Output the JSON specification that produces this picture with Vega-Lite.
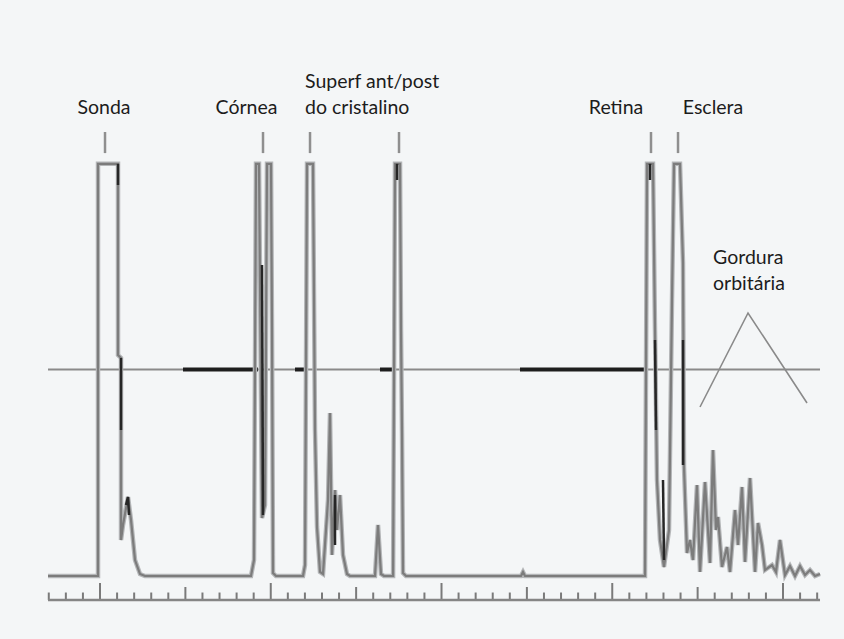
{
  "$schema": "https://vega.github.io/schema/vega-lite/v6.json",
  "width": 844,
  "height": 639,
  "autosize": "none",
  "padding": 0,
  "background": "#f4f6f7",
  "config": {"view": {"stroke": null}},
  "datasets": {
    "trace": [
      {"i": 1, "u": -3.045, "a": 0}, {"i": 2, "u": -0.117, "a": 0}, {"i": 3, "u": -0.117, "a": 99.8},
      {"i": 4, "u": 1.054, "a": 99.8}, {"i": 5, "u": 1.054, "a": 53.51}, {"i": 6, "u": 1.23, "a": 52.78},
      {"i": 7, "u": 1.23, "a": 8.72}, {"i": 8, "u": 1.347, "a": 12.35}, {"i": 9, "u": 1.64, "a": 19.13},
      {"i": 10, "u": 1.815, "a": 13.56}, {"i": 11, "u": 2.05, "a": 3.87}, {"i": 12, "u": 2.343, "a": 0.48},
      {"i": 13, "u": 2.635, "a": 0}, {"i": 14, "u": 8.843, "a": 0}, {"i": 15, "u": 9.019, "a": 3.87},
      {"i": 16, "u": 9.136, "a": 99.8}, {"i": 17, "u": 9.312, "a": 99.8}, {"i": 18, "u": 9.488, "a": 14.04},
      {"i": 19, "u": 9.663, "a": 17.19}, {"i": 20, "u": 9.78, "a": 99.8}, {"i": 21, "u": 10.015, "a": 99.8},
      {"i": 22, "u": 10.073, "a": 59.56}, {"i": 23, "u": 10.132, "a": 0.73}, {"i": 24, "u": 10.307, "a": 0},
      {"i": 25, "u": 11.889, "a": 0}, {"i": 26, "u": 12.006, "a": 2.66}, {"i": 27, "u": 12.123, "a": 99.8},
      {"i": 28, "u": 12.474, "a": 99.8}, {"i": 29, "u": 12.591, "a": 35.35}, {"i": 30, "u": 12.709, "a": 11.86},
      {"i": 31, "u": 12.884, "a": 0.97}, {"i": 32, "u": 13.06, "a": 0.48}, {"i": 33, "u": 13.353, "a": 18.4},
      {"i": 34, "u": 13.47, "a": 39.47}, {"i": 35, "u": 13.587, "a": 5.08}, {"i": 36, "u": 13.763, "a": 20.82},
      {"i": 37, "u": 13.88, "a": 11.14}, {"i": 38, "u": 14.056, "a": 19.61}, {"i": 39, "u": 14.231, "a": 5.08},
      {"i": 40, "u": 14.465, "a": 0.48}, {"i": 41, "u": 14.641, "a": 0}, {"i": 42, "u": 16.105, "a": 0},
      {"i": 43, "u": 16.281, "a": 12.35}, {"i": 44, "u": 16.457, "a": 0.48}, {"i": 45, "u": 16.633, "a": 0},
      {"i": 46, "u": 17.164, "a": 0}, {"i": 47, "u": 17.277, "a": 99.8}, {"i": 48, "u": 17.57, "a": 99.8},
      {"i": 49, "u": 17.628, "a": 59.56}, {"i": 50, "u": 17.687, "a": 34.62}, {"i": 51, "u": 17.745, "a": 0.73},
      {"i": 52, "u": 17.921, "a": 0}, {"i": 53, "u": 24.656, "a": 0}, {"i": 54, "u": 24.773, "a": 0.97},
      {"i": 55, "u": 24.89, "a": 0}, {"i": 56, "u": 31.918, "a": 0}, {"i": 57, "u": 32.035, "a": 99.8},
      {"i": 58, "u": 32.386, "a": 99.8}, {"i": 59, "u": 32.503, "a": 59.56}, {"i": 60, "u": 32.62, "a": 23.24},
      {"i": 61, "u": 32.796, "a": 8.72}, {"i": 62, "u": 33.03, "a": 2.18}, {"i": 63, "u": 33.323, "a": 11.14},
      {"i": 64, "u": 33.499, "a": 66.83}, {"i": 65, "u": 33.616, "a": 99.8}, {"i": 66, "u": 33.968, "a": 99.8},
      {"i": 67, "u": 34.143, "a": 75.79}, {"i": 68, "u": 34.202, "a": 26.39}, {"i": 69, "u": 34.377, "a": 5.57},
      {"i": 70, "u": 34.553, "a": 8.72}, {"i": 71, "u": 34.729, "a": 3.87}, {"i": 72, "u": 34.963, "a": 22.03},
      {"i": 73, "u": 35.139, "a": 0.97}, {"i": 74, "u": 35.432, "a": 22.76}, {"i": 75, "u": 35.724, "a": 3.15},
      {"i": 76, "u": 35.9, "a": 30.51}, {"i": 77, "u": 36.076, "a": 11.14}, {"i": 78, "u": 36.193, "a": 14.29},
      {"i": 79, "u": 36.427, "a": 2.18}, {"i": 80, "u": 36.72, "a": 7.02}, {"i": 81, "u": 36.896, "a": 0.97},
      {"i": 82, "u": 37.189, "a": 15.98}, {"i": 83, "u": 37.365, "a": 7.51}, {"i": 84, "u": 37.599, "a": 21.55},
      {"i": 85, "u": 37.775, "a": 3.39}, {"i": 86, "u": 38.068, "a": 23.73}, {"i": 87, "u": 38.361, "a": 0.97},
      {"i": 88, "u": 38.536, "a": 12.83}, {"i": 89, "u": 38.77, "a": 7.51}, {"i": 90, "u": 38.946, "a": 1.45},
      {"i": 91, "u": 39.356, "a": 2.66}, {"i": 92, "u": 39.59, "a": 0.97}, {"i": 93, "u": 39.824, "a": 8.72},
      {"i": 94, "u": 40.117, "a": 0.24}, {"i": 95, "u": 40.41, "a": 2.42}, {"i": 96, "u": 40.703, "a": 0},
      {"i": 97, "u": 40.996, "a": 2.42}, {"i": 98, "u": 41.289, "a": 0.24}, {"i": 99, "u": 41.581, "a": 1.45},
      {"i": 100, "u": 41.874, "a": 0}, {"i": 101, "u": 42.167, "a": 0.48}
    ],
    "dark": [
      {"seg": "s1", "i": 1, "u": 1.054, "a": 99.8}, {"seg": "s1", "i": 2, "u": 1.054, "a": 94.67},
      {"seg": "s2", "i": 1, "u": 1.23, "a": 52.78}, {"seg": "s2", "i": 2, "u": 1.23, "a": 35.35},
      {"seg": "s3", "i": 1, "u": 1.523, "a": 17.19}, {"seg": "s3", "i": 2, "u": 1.64, "a": 19.13}, {"seg": "s3", "i": 3, "u": 1.698, "a": 14.77},
      {"seg": "s4", "i": 1, "u": 9.488, "a": 75.3}, {"seg": "s4", "i": 2, "u": 9.546, "a": 14.77},
      {"seg": "s5", "i": 1, "u": 13.763, "a": 19.61}, {"seg": "s5", "i": 2, "u": 13.763, "a": 7.51},
      {"seg": "s6", "i": 1, "u": 32.21, "a": 99.8}, {"seg": "s6", "i": 2, "u": 32.21, "a": 95.88},
      {"seg": "s7", "i": 1, "u": 32.503, "a": 57.14}, {"seg": "s7", "i": 2, "u": 32.562, "a": 35.35},
      {"seg": "s8", "i": 1, "u": 32.972, "a": 23.24}, {"seg": "s8", "i": 2, "u": 33.03, "a": 3.87},
      {"seg": "s9", "i": 1, "u": 34.143, "a": 57.14}, {"seg": "s9", "i": 2, "u": 34.143, "a": 26.88},
      {"seg": "s10", "i": 1, "u": 17.394, "a": 99.8}, {"seg": "s10", "i": 2, "u": 17.394, "a": 95.88}
    ],
    "gate": [
      {"start": 4.861, "end": 9.253}, {"start": 11.42, "end": 12.006},
      {"start": 16.398, "end": 17.16}, {"start": 24.597, "end": 32.035}
    ],
    "tri": [
      {"i": 1, "u": 35.139, "a": 40.92}, {"i": 2, "u": 37.951, "a": 63.68}, {"i": 3, "u": 41.406, "a": 41.89}
    ],
    "marks": [
      {"u": 0.293}, {"u": 9.546}, {"u": 12.299}, {"u": 17.511}, {"u": 32.269}, {"u": 33.851}
    ],
    "ticks": [
      {"u": -3, "kind": "minor"}, {"u": -2, "kind": "minor"}, {"u": -1, "kind": "minor"}, {"u": 0, "kind": "major"},
      {"u": 1, "kind": "minor"}, {"u": 2, "kind": "minor"}, {"u": 3, "kind": "minor"}, {"u": 4, "kind": "minor"},
      {"u": 5, "kind": "mid"}, {"u": 6, "kind": "minor"}, {"u": 7, "kind": "minor"}, {"u": 8, "kind": "minor"},
      {"u": 9, "kind": "minor"}, {"u": 10, "kind": "major"}, {"u": 11, "kind": "minor"}, {"u": 12, "kind": "minor"},
      {"u": 13, "kind": "minor"}, {"u": 14, "kind": "minor"}, {"u": 15, "kind": "mid"}, {"u": 16, "kind": "minor"},
      {"u": 17, "kind": "minor"}, {"u": 18, "kind": "minor"}, {"u": 19, "kind": "minor"}, {"u": 20, "kind": "major"},
      {"u": 21, "kind": "minor"}, {"u": 22, "kind": "minor"}, {"u": 23, "kind": "minor"}, {"u": 24, "kind": "minor"},
      {"u": 25, "kind": "mid"}, {"u": 26, "kind": "minor"}, {"u": 27, "kind": "minor"}, {"u": 28, "kind": "minor"},
      {"u": 29, "kind": "minor"}, {"u": 30, "kind": "major"}, {"u": 31, "kind": "minor"}, {"u": 32, "kind": "minor"},
      {"u": 33, "kind": "minor"}, {"u": 34, "kind": "minor"}, {"u": 35, "kind": "mid"}, {"u": 36, "kind": "minor"},
      {"u": 37, "kind": "minor"}, {"u": 38, "kind": "minor"}, {"u": 39, "kind": "minor"}, {"u": 40, "kind": "major"},
      {"u": 41, "kind": "minor"}, {"u": 42, "kind": "minor"}
    ],
    "labelsC": [
      {"u": 0.234, "a": 113.32, "t": "Sonda"},
      {"u": 8.58, "a": 113.32, "t": "Córnea"},
      {"u": 30.22, "a": 113.32, "t": "Retina"},
      {"u": 35.9, "a": 113.32, "t": "Esclera"}
    ],
    "labelsL": [
      {"u": 12.006, "a": 119.61, "t": "Superf ant/post"},
      {"u": 12.006, "a": 113.32, "t": "do cristalino"},
      {"u": 35.9, "a": 77.0, "t": "Gordura"},
      {"u": 35.9, "a": 70.7, "t": "orbitária"}
    ]
  },
  "layer": [
    {
      "data": {"name": "ticks"},
      "transform": [{"filter": "datum.kind === 'minor'"}],
      "mark": {"type": "rule", "color": "#7a7a7a", "strokeWidth": 2},
      "encoding": {
        "x": {"field": "u", "type": "quantitative", "scale": {"domain": [-5.857, 43.572], "nice": false, "zero": false}, "axis": null},
        "y": {"datum": -5.81, "type": "quantitative", "scale": {"domain": [-15.254, 139.467], "nice": false, "zero": false}, "axis": null},
        "y2": {"datum": -4.0}
      }
    },
    {
      "data": {"name": "ticks"},
      "transform": [{"filter": "datum.kind === 'mid'"}],
      "mark": {"type": "rule", "color": "#7a7a7a", "strokeWidth": 2},
      "encoding": {
        "x": {"field": "u", "type": "quantitative"},
        "y": {"datum": -5.81, "type": "quantitative"},
        "y2": {"datum": -2.66}
      }
    },
    {
      "data": {"name": "ticks"},
      "transform": [{"filter": "datum.kind === 'major'"}],
      "mark": {"type": "rule", "color": "#7a7a7a", "strokeWidth": 2},
      "encoding": {
        "x": {"field": "u", "type": "quantitative"},
        "y": {"datum": -5.81, "type": "quantitative"},
        "y2": {"datum": -1.69}
      }
    },
    {
      "data": {"values": [{"k": 1}]},
      "mark": {"type": "rule", "color": "#858585", "strokeWidth": 2.5},
      "encoding": {
        "x": {"datum": -3.045, "type": "quantitative"},
        "x2": {"datum": 42.167},
        "y": {"datum": -5.81, "type": "quantitative"}
      }
    },
    {
      "data": {"values": [{"k": 1}]},
      "mark": {"type": "rule", "color": "#8a8a8a", "strokeWidth": 2},
      "encoding": {
        "x": {"datum": -3.045, "type": "quantitative"},
        "x2": {"datum": 42.167},
        "y": {"datum": 50, "type": "quantitative"}
      }
    },
    {
      "data": {"name": "gate"},
      "mark": {"type": "rule", "color": "#1e1e1e", "strokeWidth": 4},
      "encoding": {
        "x": {"field": "start", "type": "quantitative"},
        "x2": {"field": "end"},
        "y": {"datum": 50, "type": "quantitative"}
      }
    },
    {
      "data": {"name": "tri"},
      "mark": {"type": "line", "color": "#8a8a8a", "strokeWidth": 1.6},
      "encoding": {
        "x": {"field": "u", "type": "quantitative"},
        "y": {"field": "a", "type": "quantitative"},
        "order": {"field": "i"}
      }
    },
    {
      "data": {"name": "trace"},
      "mark": {"type": "line", "color": "#b4b6b8", "strokeWidth": 4.5, "strokeJoin": "miter"},
      "encoding": {
        "x": {"field": "u", "type": "quantitative"},
        "y": {"field": "a", "type": "quantitative"},
        "order": {"field": "i"}
      }
    },
    {
      "data": {"name": "trace"},
      "mark": {"type": "line", "color": "#7c7c7c", "strokeWidth": 2.2, "strokeJoin": "miter"},
      "encoding": {
        "x": {"field": "u", "type": "quantitative"},
        "y": {"field": "a", "type": "quantitative"},
        "order": {"field": "i"}
      }
    },
    {
      "data": {"name": "dark"},
      "mark": {"type": "line", "color": "#262626", "strokeWidth": 2.5},
      "encoding": {
        "x": {"field": "u", "type": "quantitative"},
        "y": {"field": "a", "type": "quantitative"},
        "detail": {"field": "seg"},
        "order": {"field": "i"}
      }
    },
    {
      "data": {"name": "marks"},
      "mark": {"type": "rule", "color": "#8f8f8f", "strokeWidth": 2.5},
      "encoding": {
        "x": {"field": "u", "type": "quantitative"},
        "y": {"datum": 102.4, "type": "quantitative"},
        "y2": {"datum": 107.5}
      }
    },
    {
      "data": {"name": "labelsC"},
      "mark": {"type": "text", "font": "Lato", "fontSize": 19.5, "color": "#1c1c1c", "align": "center", "baseline": "middle"},
      "encoding": {
        "x": {"field": "u", "type": "quantitative"},
        "y": {"field": "a", "type": "quantitative"},
        "text": {"field": "t"}
      }
    },
    {
      "data": {"name": "labelsL"},
      "mark": {"type": "text", "font": "Lato", "fontSize": 19.5, "color": "#1c1c1c", "align": "left", "baseline": "middle"},
      "encoding": {
        "x": {"field": "u", "type": "quantitative"},
        "y": {"field": "a", "type": "quantitative"},
        "text": {"field": "t"}
      }
    }
  ]
}
